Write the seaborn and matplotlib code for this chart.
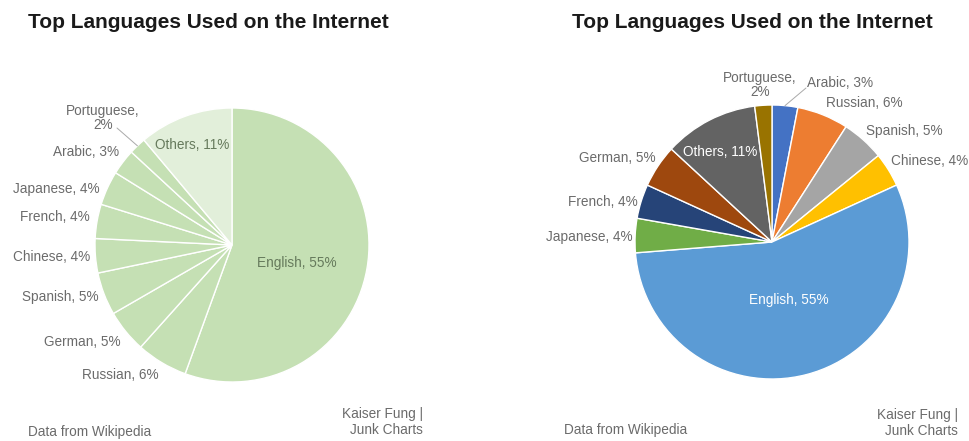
import numpy as np
import matplotlib
matplotlib.use("Agg")
import matplotlib.pyplot as plt
import seaborn as sns

# Share of websites by content language (percent)
left_langs = ["English", "Russian", "German", "Spanish", "Chinese",
              "French", "Japanese", "Arabic", "Portuguese", "Others"]
left_values = [55, 6, 5, 5, 4, 4, 4, 3, 2, 11]

right_langs = ["Arabic", "Russian", "Spanish", "Chinese", "English",
               "Japanese", "French", "German", "Others", "Portuguese"]
right_values = [3, 6, 5, 4, 55, 4, 4, 5, 11, 2]

title_text = "Top Languages Used on the Internet"
source_text = "Data from Wikipedia"
credit_text = "Kaiser Fung |\nJunk Charts"

# ---- styling -------------------------------------------------------------
sns.set_theme(style="white")
plt.rcParams["font.family"] = ["Liberation Sans", "DejaVu Sans"]

W, H = 969, 441
DPI = 100
LABEL_COLOR = "#6b6b6b"
LABEL_SIZE = 9.8

green_main = "#c5e0b4"
green_light = "#e2efda"
left_colors = [green_main] * 9 + [green_light]

right_palette = {
    "English": "#5b9bd5", "Russian": "#ed7d31", "Spanish": "#a5a5a5",
    "Chinese": "#ffc000", "Arabic": "#4472c4", "Japanese": "#70ad47",
    "French": "#264478", "German": "#9e480e", "Others": "#636363",
    "Portuguese": "#997300",
}
right_colors = [right_palette[l] for l in right_langs]

# label anchor points in pixel space (x, y from top-left)
left_label_pos = {
    "Portuguese": (103, 118), "Arabic": (86, 152), "Japanese": (56, 189),
    "French": (55, 217), "Chinese": (52, 257), "Spanish": (60, 297),
    "German": (82, 342), "Russian": (120, 375), "Others": (192, 145),
    "English": (297, 263),
}
right_label_pos = {
    "Portuguese": (760, 85), "Arabic": (840, 83), "Russian": (864, 103),
    "Spanish": (904, 131), "Chinese": (930, 161), "German": (617, 158),
    "French": (603, 202), "Japanese": (589, 237), "Others": (720, 152),
    "English": (789, 300),
}


def fx(x):
    return x / W


def fy(y):
    return 1 - y / H


fig = plt.figure(figsize=(W / DPI, H / DPI), dpi=DPI)
fig.patch.set_facecolor("white")


def pie_axes(cx, cy, r):
    ax = fig.add_axes([fx(cx - r), fy(cy + r), 2 * r / W, 2 * r / H])
    return ax


def draw_pie(ax, langs, values, colors, positions, inside_color, leaders):
    wedges, _ = ax.pie(values, colors=colors, startangle=90,
                       counterclock=False, radius=1.0,
                       wedgeprops=dict(edgecolor="white", linewidth=1.0))
    ax.set_xlim(-1, 1)
    ax.set_ylim(-1, 1)
    ax.set_aspect("equal")
    ax.axis("off")
    for lang, val, w in zip(langs, values, wedges):
        label = f"{lang}, {val}%"
        if lang == "Portuguese":
            label = f"{lang},\n{val}%"
        px, py = positions[lang]
        inside = lang in ("English", "Others")
        color = inside_color if inside else LABEL_COLOR
        fig.text(fx(px), fy(py), label, ha="center", va="center",
                 fontsize=LABEL_SIZE, color=color, linespacing=1.0)
        if lang in leaders:
            mid = np.deg2rad((w.theta1 + w.theta2) / 2)
            ex, ey = np.cos(mid), np.sin(mid)
            # convert label end point from pixels to data coords
            lx, ly = leaders[lang]
            disp = fig.transFigure.transform((fx(lx), fy(ly)))
            dx, dy = ax.transData.inverted().transform(disp)
            ax.plot([ex, dx], [ey, dy], color="#a9a9a9", lw=0.7,
                    clip_on=False)


# left chart: single-hue greens
ax_l = pie_axes(232, 245, 137)
draw_pie(ax_l, left_langs, left_values, left_colors, left_label_pos,
         "#667a5c", {"Portuguese": (117, 128)})

# right chart: categorical palette
ax_r = pie_axes(772, 242, 137)
draw_pie(ax_r, right_langs, right_values, right_colors, right_label_pos,
         "white", {"Arabic": (806, 88)})

# titles
for x0 in (28, 572):
    fig.text(fx(x0), fy(22), title_text, ha="left", va="center",
             fontsize=15, fontweight="bold", color="#1a1a1a")

# footers
fig.text(fx(28), fy(432), source_text, ha="left", va="center",
         fontsize=LABEL_SIZE, color=LABEL_COLOR)
fig.text(fx(564), fy(430), source_text, ha="left", va="center",
         fontsize=LABEL_SIZE, color=LABEL_COLOR)
fig.text(fx(423), fy(422), credit_text, ha="right", va="center",
         fontsize=LABEL_SIZE, color=LABEL_COLOR, linespacing=1.25,
         multialignment="right")
fig.text(fx(958), fy(423), credit_text, ha="right", va="center",
         fontsize=LABEL_SIZE, color=LABEL_COLOR, linespacing=1.25,
         multialignment="right")

fig.savefig("out.png", dpi=DPI, facecolor="white")
